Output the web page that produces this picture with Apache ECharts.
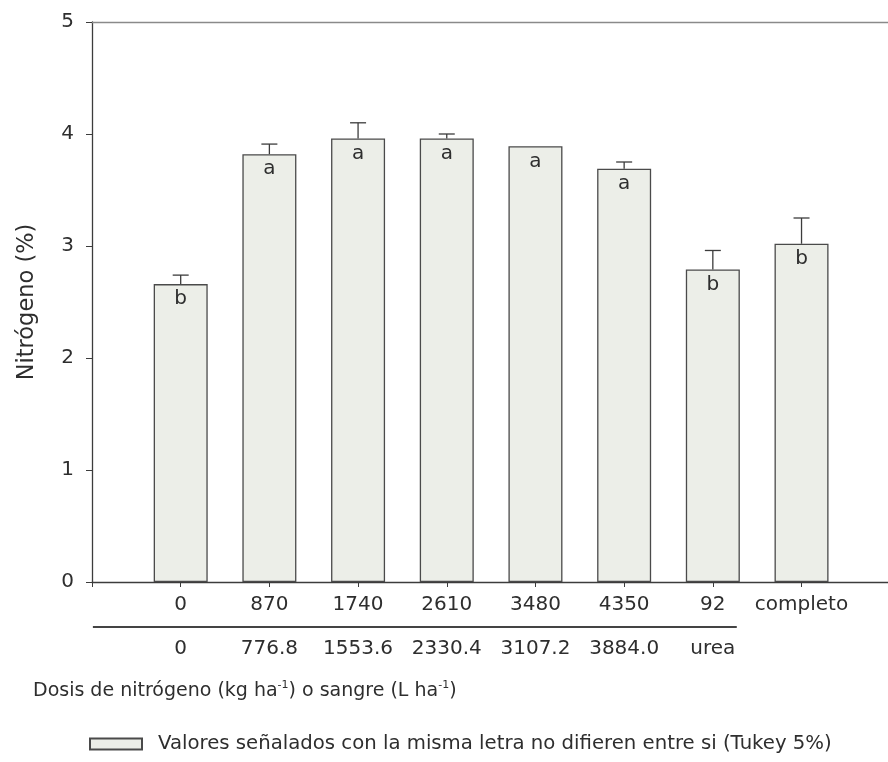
<!DOCTYPE html>
<html>
<head>
<meta charset="utf-8">
<script src="https://cdn.jsdelivr.net/npm/echarts@6/dist/echarts.min.js"></script>
<style>
  html, body { margin: 0; padding: 0; background: #fff; }
  #chart { width: 888px; height: 762px; }
</style>
</head>
<body>
<div id="chart"></div>
<script>
// Nitrogen dose (kg/ha) and equivalent blood volume (L/ha) per treatment
const dosisN = ['0', '870', '1740', '2610', '3480', '4350', '92', 'completo'];
const dosisSangre = ['0', '776.8', '1553.6', '2330.4', '3107.2', '3884.0', 'urea', ''];
// Mean leaf nitrogen (%) and standard error
const nitrogeno = [2.66, 3.82, 3.96, 3.96, 3.89, 3.69, 2.79, 3.02];
const errorEst = [0.08, 0.09, 0.14, 0.04, 0, 0.06, 0.17, 0.23];
// Tukey grouping letters
const letras = ['b', 'a', 'a', 'a', 'a', 'a', 'b', 'b'];
const yTicks = [0, 1, 2, 3, 4, 5];

const FONT = '"DejaVu Sans", "Liberation Sans", Arial, sans-serif';
const TXT = '#2e2e2e';
const AXIS = '#3c3c3c';
const leyenda = 'Valores señalados con la misma letra no difieren entre si (Tukey 5%)';

// Treatments sit at slots 1..8 of the horizontal axis; slot 0 is left empty
const X_MAX = 8.975;
const slot = i => i + 1;
const labelAt = arr => v => (Number.isInteger(v) && v >= 1 && v <= arr.length) ? arr[v - 1] : '';
const barData = nitrogeno.map((v, i) => [slot(i), v]);
const errData = nitrogeno.map((v, i) => [slot(i), v, errorEst[i]]);

const chart = echarts.init(document.getElementById('chart'), null, { renderer: 'canvas' });

const xBase = {
  type: 'value', min: 0, max: X_MAX, interval: 1,
  splitLine: { show: false }
};

const option = {
  backgroundColor: '#ffffff',
  animation: false,
  textStyle: { fontFamily: FONT, color: TXT },
  grid: { left: 92, right: 0, top: 22, bottom: 180, containLabel: false },
  legend: {
    left: 84, top: 729,
    icon: 'rect', itemWidth: 52, itemHeight: 11,
    selectedMode: false,
    data: [leyenda],
    textStyle: { fontFamily: FONT, fontSize: 19.7, color: TXT, padding: [0, 0, 0, 11] }
  },
  xAxis: [
    Object.assign({}, xBase, {
      position: 'bottom',
      axisLine: { show: true, onZero: false, lineStyle: { color: AXIS, width: 1.3 } },
      axisTick: { show: true, length: 5, lineStyle: { color: AXIS } },
      axisLabel: { margin: 13, fontFamily: FONT, fontSize: 20, color: TXT, showMinLabel: true, showMaxLabel: false, formatter: labelAt(dosisN) }
    }),
    Object.assign({}, xBase, {
      position: 'bottom', offset: 44,
      axisLine: { show: false }, axisTick: { show: false },
      axisLabel: { margin: 13, fontFamily: FONT, fontSize: 20, color: TXT, showMaxLabel: false, formatter: labelAt(dosisSangre) }
    }),
    Object.assign({}, xBase, {
      position: 'top',
      axisLine: { show: true, onZero: false, lineStyle: { color: '#8a8a8a', width: 1.3 } },
      axisTick: { show: false }, axisLabel: { show: false }
    })
  ],
  yAxis: {
    type: 'value', min: yTicks[0], max: yTicks[yTicks.length - 1], interval: 1,
    name: 'Nitrógeno (%)', nameLocation: 'middle', nameGap: 53,
    nameTextStyle: { fontFamily: FONT, fontSize: 22.5, color: TXT },
    axisLine: { show: true, onZero: false, lineStyle: { color: AXIS, width: 1.3 } },
    axisTick: { show: true, length: 6, lineStyle: { color: AXIS } },
    axisLabel: { margin: 18, fontFamily: FONT, fontSize: 20, color: TXT },
    splitLine: { show: false }
  },
  series: [
    {
      name: leyenda,
      type: 'bar',
      xAxisIndex: 0,
      data: barData,
      barWidth: 54,
      itemStyle: { color: '#eceee8', borderColor: '#4a4a4a', borderWidth: 1.3 },
      label: {
        show: true, position: 'insideTop', distance: 5,
        fontFamily: FONT, fontSize: 20, color: TXT,
        formatter: p => letras[p.dataIndex]
      },
      z: 2
    },
    {
      name: 'error',
      type: 'custom',
      xAxisIndex: 0,
      data: errData,
      z: 3,
      renderItem: function (params, api) {
        const x = api.value(0), v = api.value(1), e = api.value(2);
        if (!e) return { type: 'group', children: [] };
        const base = api.coord([x, v]);
        const top = api.coord([x, v + e]);
        const cap = 8;
        const st = { stroke: '#3c3c3c', lineWidth: 1.3 };
        return {
          type: 'group',
          children: [
            { type: 'line', shape: { x1: base[0], y1: base[1], x2: top[0], y2: top[1] }, style: st },
            { type: 'line', shape: { x1: top[0] - cap, y1: top[1], x2: top[0] + cap, y2: top[1] }, style: st }
          ]
        };
      }
    }
  ]
};

chart.setOption(option);

// Separator between the two label rows, spanning from the axis origin to the urea slot
const xStart = chart.convertToPixel({ xAxisIndex: 0 }, 0.01);
const xEnd = chart.convertToPixel({ xAxisIndex: 0 }, slot(6) + 0.27);
const yBase = chart.convertToPixel({ yAxisIndex: 0 }, 0);
chart.setOption({
  graphic: [
    {
      type: 'line',
      shape: { x1: xStart, y1: yBase + 45, x2: xEnd, y2: yBase + 45 },
      style: { stroke: '#444', lineWidth: 2 }
    },
    {
      type: 'text',
      left: 33, top: 680,
      style: {
        text: 'Dosis de nitrógeno (kg ha{s|-1}) o sangre (L ha{s|-1})',
        font: '19px ' + FONT,
        fill: TXT,
        rich: {
          s: { fontSize: 11, fontFamily: FONT, fill: TXT, verticalAlign: 'top', lineHeight: 23 }
        }
      }
    }
  ]
});
</script>
</body>
</html>
